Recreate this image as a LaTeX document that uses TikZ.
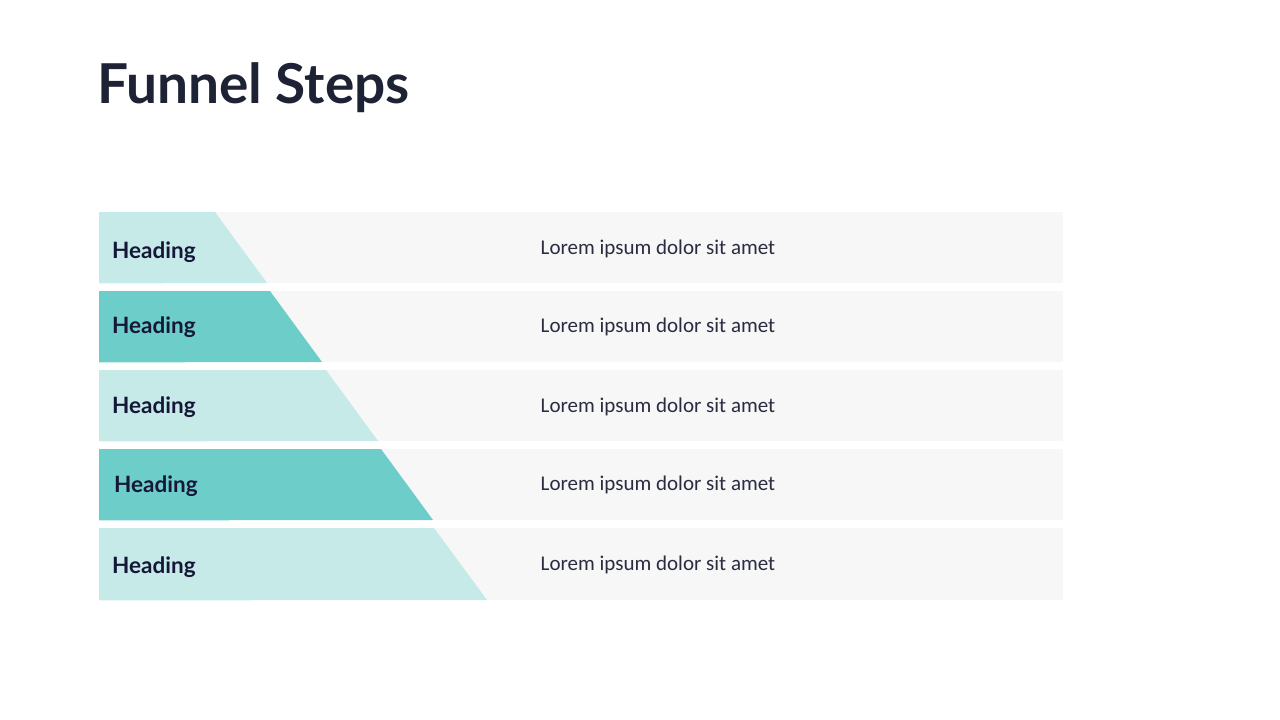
\documentclass[tikz,border=0pt]{standalone}
\usepackage{fontspec}
\setmainfont{Lato}
\newfontfamily\bodyfont{Carlito}
\definecolor{lightteal}{HTML}{C5EAE7}
\definecolor{darkteal}{HTML}{6DCDC8}
\definecolor{rowgray}{HTML}{F7F7F7}
\definecolor{navy}{HTML}{161738}
\definecolor{titlecol}{HTML}{1E2235}
\definecolor{bodycol}{HTML}{2A2C40}
\tikzset{
  rowbox/.style={fill=rowgray, draw=none, inner sep=0pt, anchor=north west, minimum width=964pt, minimum height=71pt},
  headtext/.style={font=\fontsize{22.5}{26}\selectfont\bfseries, text=navy, anchor=base west, inner sep=0pt},
  bodytext/.style={font=\bodyfont\fontsize{21}{25}\selectfont, text=bodycol, anchor=base, inner sep=0pt},
}
\begin{document}
\begin{tikzpicture}[x=1pt,y=-1pt]
\useasboundingbox (0,0) rectangle (1280,720);
\node[font=\fontsize{55}{60}\selectfont\bfseries, text=titlecol, anchor=base west, inner sep=0pt] (title) at (97,103) {Funnel Steps};
% rows
\node[rowbox] (r1) at (99,212) {};
\node[rowbox] (r2) at (99,291) {};
\node[rowbox] (r3) at (99,370) {};
\node[rowbox] (r4) at (99,449) {};
\node[rowbox, minimum height=72pt] (r5) at (99,528) {};
% funnel trapezoids
\fill[lightteal] (r1.north west) -- (215,212) -- (267,283) -- (r1.south west) -- cycle;
\fill[darkteal] (r2.north west) -- (270,291) -- (322,362) -- (r2.south west) -- cycle;
\fill[lightteal] (r3.north west) -- (326,370) -- (378,441) -- (r3.south west) -- cycle;
\fill[darkteal] (r4.north west) -- (381,449) -- (433,520) -- (r4.south west) -- cycle;
\fill[lightteal] (r5.north west) -- (434,528) -- (487,600) -- (r5.south west) -- cycle;
% headings
\node[headtext] (h1) at (112,258) {Heading};
\node[headtext] (h2) at (112,333) {Heading};
\node[headtext] (h3) at (112,413) {Heading};
\node[headtext] (h4) at (114,492) {Heading};
\node[headtext] (h5) at (112,573) {Heading};
% body text
\node[bodytext] (t1) at (658,254) {Lorem ipsum dolor sit amet};
\node[bodytext] (t2) at (658,332) {Lorem ipsum dolor sit amet};
\node[bodytext] (t3) at (658,412) {Lorem ipsum dolor sit amet};
\node[bodytext] (t4) at (658,490) {Lorem ipsum dolor sit amet};
\node[bodytext] (t5) at (658,570) {Lorem ipsum dolor sit amet};
\end{tikzpicture}
\end{document}
